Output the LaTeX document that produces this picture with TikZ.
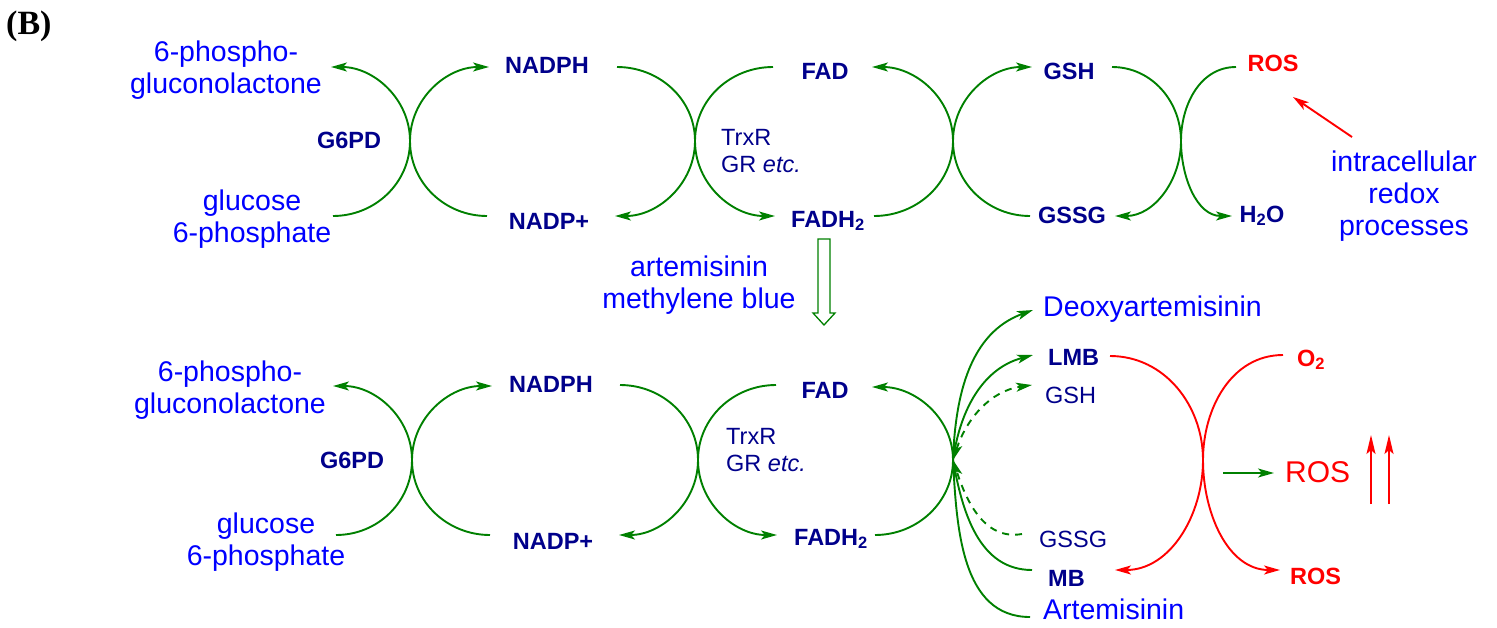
\documentclass[tikz,border=0pt]{standalone}
\usepackage{fontspec}
\setmainfont{Liberation Sans}
\newfontfamily\panelfont{Liberation Serif}
\usetikzlibrary{arrows.meta}
\definecolor{navy}{RGB}{0,0,139}
\definecolor{drugblue}{RGB}{0,0,255}
\definecolor{leaf}{RGB}{0,128,0}
\definecolor{rosred}{RGB}{255,0,0}

\begin{document}
\begin{tikzpicture}%
	[x=1pt, y=-1pt,
	>={Stealth[length=16pt,width=9pt,inset=4pt]},
	flow/.style={color=leaf, line width=1.9pt},
	dflow/.style={flow, dash pattern=on 7pt off 6pt},
	rflow/.style={color=rosred, line width=1.9pt},
	metab/.style={text=navy, font=\fontsize{23.5}{27}\selectfont\bfseries, inner sep=0pt, anchor=base},
	enzyme/.style={text=navy, font=\fontsize{23.5}{27}\selectfont, inner sep=0pt, anchor=base west, align=left},
	drug/.style={text=drugblue, font=\fontsize{28.5}{32}\selectfont, inner sep=0pt, anchor=base, align=center}]
%
\useasboundingbox (0,0) rectangle (1497,627);
%%
%% labels, upper row (multi-line nodes sit on their last baseline)
%%
\node[font=\panelfont\fontsize{34}{38}\selectfont\bfseries, anchor=base west, inner sep=0pt] (panel) at (6,34) {(B)};
\node[drug] (pglA) at (226,93) {6-phospho-\\gluconolactone};
\node[drug] (g6pA) at (252,242) {glucose\\6-phosphate};
\node[metab] (g6pdA) at (349,148) {G6PD};
\node[metab] (nadphA) at (547,73) {NADPH};
\node[metab] (nadpA) at (549,229) {NADP+};
\node[metab] (fadA) at (825,79) {FAD};
\node[metab] (fadhA) at (828,227) {FADH\textsubscript{2}};
\node[enzyme] (trxA) at (721,172) {TrxR\\GR \textit{etc.}};
\node[metab] (gshA) at (1069,79) {GSH};
\node[metab] (gssgA) at (1072,223) {GSSG};
\node[metab, text=rosred] (rosA) at (1273,71) {ROS};
\node[metab] (water) at (1262,222) {H\textsubscript{2}O};
\node[drug] (redox) at (1404,235) {intracellular\\redox\\processes};
\node[drug] (drugs) at (699,308) {artemisinin\\methylene blue};
%%
%% labels, lower row
%%
\node[drug] (pglB) at (230,413) {6-phospho-\\gluconolactone};
\node[drug] (g6pB) at (266,565) {glucose\\6-phosphate};
\node[metab] (g6pdB) at (352,468) {G6PD};
\node[metab] (nadphB) at (551,392) {NADPH};
\node[metab] (nadpB) at (553,549) {NADP+};
\node[metab] (fadB) at (825,398) {FAD};
\node[metab] (fadhB) at (831,545) {FADH\textsubscript{2}};
\node[enzyme] (trxB) at (726,471) {TrxR\\GR \textit{etc.}};
\node[drug, anchor=base west] (deoxy) at (1043,316) {Deoxyartemisinin};
\node[metab, anchor=base west] (lmb) at (1048,365) {LMB};
\node[enzyme] (gshB) at (1045,403) {GSH};
\node[enzyme] (gssgB) at (1039,547) {GSSG};
\node[metab, anchor=base west] (mb) at (1048,586) {MB};
\node[drug, anchor=base west] (artB) at (1043,619) {Artemisinin};
\node[metab, text=rosred, anchor=base west] (oxy) at (1297,366) {O\textsubscript{2}};
\node[drug, text=rosred, font=\fontsize{30}{34}\selectfont, anchor=base west] (rosbig) at (1285,482) {ROS};
\node[metab, text=rosred, anchor=base west] (rosB) at (1290,584) {ROS};
%%
%% arc ends, upper row
%%
\coordinate (a1m) at (410,141);
\coordinate (a1lt) at (331,67);
\coordinate (a1lb) at (333,216);
\coordinate (a1rt) at (489,67);
\coordinate (a1rb) at (487,216);
\coordinate (b1m) at (695,141);
\coordinate (b1lt) at (617,67);
\coordinate (b1lb) at (615,216);
\coordinate (b1rt) at (773,67);
\coordinate (b1rb) at (775,216);
\coordinate (c1m) at (953,141);
\coordinate (c1lt) at (872,67);
\coordinate (c1lb) at (874,216);
\coordinate (c1rt) at (1032,67);
\coordinate (c1rb) at (1030,216);
\coordinate (d1m) at (1181,141);
\coordinate (d1lt) at (1112,67);
\coordinate (d1lb) at (1115,216);
\coordinate (d1rt) at (1236,67);
\coordinate (d1rb) at (1232,216);
\coordinate (rdxout) at (1352,137);
\coordinate (rosin) at (1293,97);
%%
%% arc ends, lower row
%%
\coordinate (a2m) at (412,460);
\coordinate (a2lt) at (333,386);
\coordinate (a2lb) at (336,535);
\coordinate (a2rt) at (492,386);
\coordinate (a2rb) at (490,535);
\coordinate (b2m) at (698,460);
\coordinate (b2lt) at (620,385);
\coordinate (b2lb) at (619,535);
\coordinate (b2rt) at (776,385);
\coordinate (b2rb) at (777,535);
\coordinate (c2m) at (953,460);
\coordinate (c2lt) at (872,387);
\coordinate (c2lb) at (875,535);
\coordinate (deoxyin) at (1033,310);
\coordinate (lmbin) at (1033,355);
\coordinate (gshin) at (1032,385);
\coordinate (gssgout) at (1022,534);
\coordinate (mbout) at (1032,570);
\coordinate (artout) at (1030,617);
\coordinate (d2m) at (1203,460);
\coordinate (lmbred) at (1110,356);
\coordinate (mbred) at (1115,570);
\coordinate (oxyred) at (1283,355);
\coordinate (rosred) at (1280,570);
\coordinate (greenout) at (1223,473);
\coordinate (greenin) at (1274,473);
%%
%% upper row
%%
\draw[flow,->] (a1lb) to[out=0,in=-90] (a1m) to[out=90,in=0] (a1lt);
\draw[flow,->] (a1rb) to[out=180,in=-90] (a1m) to[out=90,in=180] (a1rt);
\draw[flow,->] (b1lt) to[out=0,in=90] (b1m) to[out=-90,in=0] (b1lb);
\draw[flow,->] (b1rt) to[out=180,in=90] (b1m) to[out=-90,in=180] (b1rb);
\draw[flow,->] (c1lb) to[out=0,in=-90] (c1m) to[out=90,in=0] (c1lt);
\draw[flow,->] (c1rb) to[out=180,in=-90] (c1m) to[out=90,in=180] (c1rt);
\draw[flow,->] (d1lt) to[out=0,in=90] (d1m) to[out=-90,in=0] (d1lb);
\draw[flow,->] (d1rt) to[out=180,in=90] (d1m) to[out=-90,in=180] (d1rb);
\draw[rflow,->] (rdxout) -- (rosin);
%%
%% block arrow
%%
\draw[leaf, line width=1.3pt, fill=white] (818,239) -- (830,239) -- (830,313) -- (835,313) -- (824,325) -- (813,313) -- (818,313) -- cycle;
%%
%% lower row
%%
\draw[flow,->] (a2lb) to[out=0,in=-90] (a2m) to[out=90,in=0] (a2lt);
\draw[flow,->] (a2rb) to[out=180,in=-90] (a2m) to[out=90,in=180] (a2rt);
\draw[flow,->] (b2lt) to[out=0,in=90] (b2m) to[out=-90,in=0] (b2lb);
\draw[flow,->] (b2rt) to[out=180,in=90] (b2m) to[out=-90,in=180] (b2rb);
\draw[flow,->] (c2lb) to[out=0,in=-90] (c2m) to[out=90,in=0] (c2lt);
\draw[flow,->] (c2m) to[out=88,in=200] (deoxyin);
\draw[flow,->] (c2m) to[out=82,in=195] (lmbin);
\draw[dflow,<->] (c2m) to[out=72,in=188] (gshin);
\draw[dflow,->] (gssgout) to[out=190,in=-72] (c2m);
\draw[flow] (mbout) to[out=180,in=-80] (c2m);
\draw[flow] (artout) to[out=180,in=-87] (c2m);
\draw[rflow,->] (lmbred) to[out=0,in=90] (d2m) to[out=-90,in=0] (mbred);
\draw[rflow,->] (oxyred) to[out=180,in=90] (d2m) to[out=-90,in=180] (rosred);
\draw[flow,->] (greenout) -- (greenin);
\foreach \x in {1371,1389}
	\draw[rflow,-{Stealth[length=19pt,width=9pt,inset=4pt]}] (\x,504) -- (\x,435);
\end{tikzpicture}
\end{document}
